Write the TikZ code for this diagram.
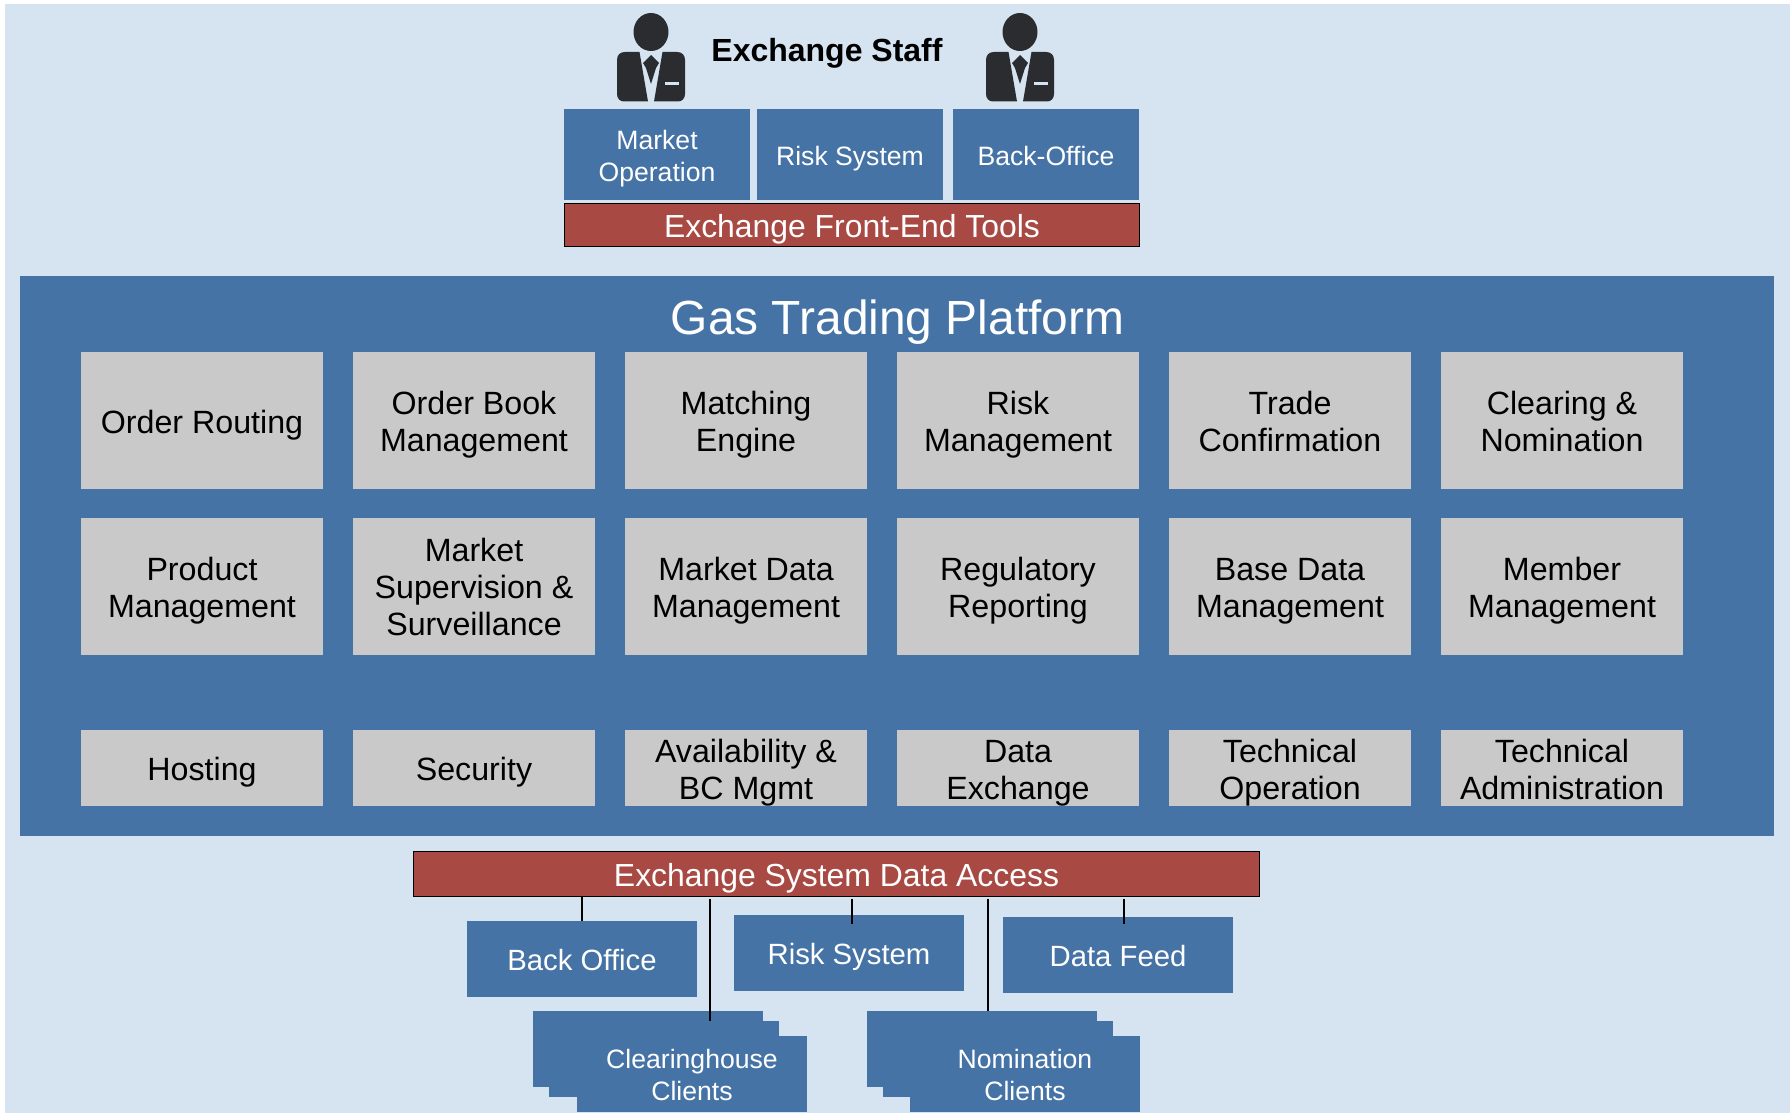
\documentclass[tikz,border=0pt]{standalone}
\usepackage{fontspec}
\setmainfont{Liberation Sans}
\definecolor{pagebg}{HTML}{D6E4F1}
\definecolor{steel}{HTML}{4573A5}
\definecolor{brick}{HTML}{A84A43}
\definecolor{tile}{HTML}{C9C9C9}
\definecolor{suit}{HTML}{2B2C30}
\newcommand{\fs}[1]{\fontsize{#1}{#1}\selectfont}
\newcommand{\botstrut}{\rule[-0.212em]{0pt}{0pt}}
\newcommand{\up}[1]{\rule{0pt}{#1em}}
\tikzset{
  x=1pt,y=-1pt,
  lift/.style={execute at begin node={\rule{0pt}{#1em}}},
  boxbase/.style={anchor=north west,inner sep=0pt,outer sep=0pt,align=center,execute at end node={\botstrut}},
  toolbox/.style={boxbase,fill=steel,text=white,minimum width=186,minimum height=91,font=\fs{26.6},execute at begin node={\baselineskip=32pt}},
  redbar/.style={boxbase,fill=brick,draw=black,line width=1pt,text=white,font=\fs{31.9}},
  tilebox/.style={boxbase,fill=tile,text=black,minimum width=242,font=\fs{32.2},execute at begin node={\baselineskip=37pt}},
  tiletall/.style={tilebox,minimum height=137},
  tileshort/.style={tilebox,minimum height=76},
  clientbox/.style={boxbase,fill=steel,text=white,minimum width=230,minimum height=76,font=\fs{29.3},lift=0.985},
  stackbox/.style={anchor=north west,inner sep=0pt,outer sep=0pt,fill=steel,minimum width=230,minimum height=76},
  stacktext/.style={inner sep=0pt,align=center,text=white,font=\fs{26.6},execute at begin node={\baselineskip=32pt}},
  link/.style={draw=black,line width=2pt},
  person/.pic={
    \fill[suit] (0,32) ellipse [x radius=17.5,y radius=19];
    \fill[suit] (-11.5,52) -- (-3,101.5) -- (-27,101.5) .. controls (-31,101.5) and (-34,98.5) .. (-34,94)
       -- (-34,60) .. controls (-34,55) and (-31,52) .. (-26,52) -- cycle;
    \fill[suit] (11.5,52) -- (3,101.5) -- (27,101.5) .. controls (31,101.5) and (34,98.5) .. (34,94)
       -- (34,60) .. controls (34,55) and (31,52) .. (26,52) -- cycle;
    \fill[suit] (0,55) -- (8,63) -- (5,68) -- (0,84) -- (-5,68) -- (-8,63) -- cycle;
    \fill[pagebg] (13.5,82) rectangle (28,85.5);
  }
}
\begin{document}
\begin{tikzpicture}
\useasboundingbox (0,0) rectangle (1790,1113);
\fill[white] (0,0) rectangle (1790,1113);
\fill[pagebg] (5,4) rectangle (1790,1113);

\pic at (651,0) {person};
\pic at (1020,0) {person};
\node[inner sep=0pt,font=\fs{32}\bfseries] (staff) at (827,53) {Exchange Staff};

\node[toolbox] (market) at (564,109) {\up{1.03}Market\\Operation};
\node[toolbox,lift=1.03] (risktool) at (757,109) {Risk System};
\node[toolbox,lift=1.03] (backtool) at (953,109) {Back-Office};
\node[redbar,lift=1.01,minimum width=575,minimum height=43] (frontend) at (564.5,203) {Exchange Front-End Tools};

\node[stackbox,minimum width=1754,minimum height=560] (platform) at (20,276) {};
\node[inner sep=0pt,text=white,font=\fs{47.9}] (platformtitle) at (897.5,322) {Gas Trading Platform};

\node[tiletall,lift=1.05] (a1) at (81,352) {Order Routing};
\node[tiletall] (a2) at (353,352) {\up{0.98}Order Book\\Management};
\node[tiletall] (a3) at (625,352) {\up{0.98}Matching\\Engine};
\node[tiletall] (a4) at (897,352) {\up{0.98}Risk\\Management};
\node[tiletall] (a5) at (1169,352) {\up{0.98}Trade\\Confirmation};
\node[tiletall] (a6) at (1441,352) {\up{0.98}Clearing \&\\Nomination};

\node[tiletall] (b1) at (81,518) {\up{0.98}Product\\Management};
\node[tiletall] (b2) at (353,518) {\up{0.94}Market\\Supervision \&\\Surveillance};
\node[tiletall] (b3) at (625,518) {\up{0.98}Market Data\\Management};
\node[tiletall] (b4) at (897,518) {\up{0.98}Regulatory\\Reporting};
\node[tiletall] (b5) at (1169,518) {\up{0.98}Base Data\\Management};
\node[tiletall] (b6) at (1441,518) {\up{0.98}Member\\Management};

\node[tileshort,lift=1.01] (c1) at (81,730) {Hosting};
\node[tileshort,lift=1.01] (c2) at (353,730) {Security};
\node[tileshort] (c3) at (625,730) {\up{0.99}Availability \&\\BC Mgmt};
\node[tileshort] (c4) at (897,730) {\up{0.99}Data\\Exchange};
\node[tileshort] (c5) at (1169,730) {\up{0.99}Technical\\Operation};
\node[tileshort] (c6) at (1441,730) {\up{0.99}Technical\\Administration};

\node[redbar,lift=1.05,minimum width=846,minimum height=45] (access) at (413.5,851) {Exchange System Data Access};

\node[clientbox] (backoffice) at (467,921) {Back Office};
\node[clientbox] (risksys) at (734,915) {Risk System};
\node[clientbox] (datafeed) at (1003,917) {Data Feed};

\node[stackbox] (ch1) at (533,1011) {};
\node[stackbox] (ch2) at (549,1021) {};
\node[stackbox] (ch3) at (577,1036) {};
\node[stacktext] (chtext) at (692,1075) {Clearinghouse\\Clients};

\node[stackbox] (no1) at (867,1011) {};
\node[stackbox] (no2) at (883,1021) {};
\node[stackbox] (no3) at (910,1036) {};
\node[stacktext] (notext) at (1025,1075) {Nomination\\Clients};

\coordinate (riskend) at (852,924);
\coordinate (feedend) at (1124,924);
\coordinate (chend) at (709.5,1021);
\coordinate (noend) at (987.5,1011);
\draw[link] (backoffice.north) -- (backoffice.north |- access.south);
\draw[link] (riskend) -- ([yshift=-3]riskend |- access.south);
\draw[link] (feedend) -- ([yshift=-3]feedend |- access.south);
\draw[link] (chend) -- ([yshift=-3]chend |- access.south);
\draw[link] (noend) -- ([yshift=-3]noend |- access.south);
\end{tikzpicture}
\end{document}
